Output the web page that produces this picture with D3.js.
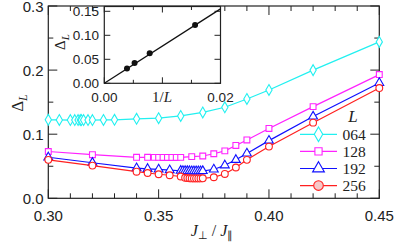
<!DOCTYPE html>
<html>
<head>
<meta charset="utf-8">
<script src="https://cdn.jsdelivr.net/npm/d3@7"></script>
<style>
  body { margin: 0; background: #fff; }
  svg { display: block; }
  .tick-label { font-family: "Liberation Sans", Arial, sans-serif; fill: #222; }
  .math { font-family: "Liberation Serif", "Times New Roman", serif; fill: #222; }
</style>
</head>
<body>
<div id="chart"></div>
<script>
// main panel: gap Delta_L vs J_perp/J_par for four system sizes
let sizes = ["064", "128", "192", "256"];
let colors = ["#22f0f0", "#ff22ff", "#1010ff", "#ff2020"];

let x064 = [0.300, 0.305, 0.310, 0.312, 0.3135, 0.3145, 0.315, 0.316, 0.318, 0.320, 0.325, 0.330, 0.340, 0.350, 0.360, 0.370, 0.380, 0.390, 0.400, 0.420, 0.450];
let y064 = [0.1225, 0.1222, 0.122, 0.122, 0.122, 0.122, 0.122, 0.122, 0.122, 0.122, 0.1222, 0.1225, 0.124, 0.125, 0.1285, 0.134, 0.142, 0.155, 0.169, 0.200, 0.244];

let x128 = [0.300, 0.320, 0.340, 0.345, 0.348, 0.350, 0.352, 0.354, 0.356, 0.358, 0.360, 0.365, 0.370, 0.375, 0.380, 0.385, 0.390, 0.400, 0.420, 0.450];
let y128 = [0.073, 0.068, 0.064, 0.064, 0.0638, 0.0638, 0.0637, 0.0637, 0.0637, 0.0637, 0.0638, 0.065, 0.066, 0.0695, 0.074, 0.0825, 0.091, 0.109, 0.143, 0.193];

let x192 = [0.300, 0.320, 0.340, 0.345, 0.350, 0.355, 0.360, 0.361, 0.362, 0.363, 0.364, 0.365, 0.366, 0.367, 0.368, 0.369, 0.370, 0.375, 0.380, 0.385, 0.390, 0.400, 0.420, 0.450];
let y192 = [0.064, 0.0555, 0.047, 0.046, 0.045, 0.044, 0.043, 0.0428, 0.0427, 0.0426, 0.0425, 0.0424, 0.0424, 0.0423, 0.0423, 0.0424, 0.0426, 0.045, 0.0515, 0.060, 0.070, 0.090, 0.1276, 0.180];

let x256 = [0.300, 0.320, 0.340, 0.345, 0.350, 0.355, 0.360, 0.362, 0.363, 0.364, 0.365, 0.366, 0.367, 0.368, 0.369, 0.370, 0.375, 0.380, 0.385, 0.390, 0.400, 0.420, 0.450];
let y256 = [0.060, 0.051, 0.0415, 0.0395, 0.0375, 0.036, 0.034, 0.032, 0.0315, 0.0312, 0.031, 0.031, 0.031, 0.031, 0.031, 0.0312, 0.0328, 0.038, 0.048, 0.060, 0.0807, 0.118, 0.172];

let xTicks = [0.30, 0.35, 0.40, 0.45];
let yTicks = [0.0, 0.1, 0.2, 0.3];

// inset: minimum gap vs 1/L
let invL = [1 / 64, 1 / 128, 1 / 192, 1 / 256];
let gapMin = [0.1215, 0.0625, 0.0423, 0.031];
let fitX = [0, 0.02];
let fitY = [0, 0.155];
let insetXTicks = [0.00, 0.02];
let insetYTicks = [0.00, 0.05, 0.10, 0.15];

let W = 395, H = 242;
let svg = d3.select("#chart").append("svg")
  .attr("width", W).attr("height", H);

let padL = 48.3, padR = 379.3, padT = 6, padB = 198.3;

let x = d3.scaleLinear().domain([0.30, 0.45]).range([padL, padR]);
let y = d3.scaleLinear().domain([0, 0.3]).range([padB, padT]);

// frame + inward ticks
function frame(g, xs, ys, xMajor, xMinor, yMajor, yMinor, big, small) {
  let x0 = xs.range()[0], x1 = xs.range()[1];
  let y0 = ys.range()[0], y1 = ys.range()[1];
  g.append("rect")
    .attr("x", x0).attr("y", y1)
    .attr("width", x1 - x0).attr("height", y0 - y1)
    .attr("fill", "none").attr("stroke", "#222").attr("stroke-width", 1.2);
  let tk = g.append("g").attr("stroke", "#222").attr("stroke-width", 1);
  xMinor.forEach(function (v) {
    let len = xMajor.some(function (m) { return Math.abs(m - v) < 1e-9; }) ? big : small;
    tk.append("line").attr("x1", xs(v)).attr("x2", xs(v)).attr("y1", y0).attr("y2", y0 - len);
    tk.append("line").attr("x1", xs(v)).attr("x2", xs(v)).attr("y1", y1).attr("y2", y1 + len);
  });
  yMinor.forEach(function (v) {
    let len = yMajor.some(function (m) { return Math.abs(m - v) < 1e-9; }) ? big : small;
    tk.append("line").attr("y1", ys(v)).attr("y2", ys(v)).attr("x1", x0).attr("x2", x0 + len);
    tk.append("line").attr("y1", ys(v)).attr("y2", ys(v)).attr("x1", x1).attr("x2", x1 - len);
  });
}

frame(svg.append("g"), x, y,
  xTicks, d3.range(0.30, 0.4501, 0.01),
  yTicks, d3.range(0, 0.3001, 0.05), 9, 5);

svg.selectAll(".xl").data(xTicks).enter().append("text")
  .attr("class", "tick-label")
  .attr("x", function (d) { return x(d); })
  .attr("y", 221)
  .attr("text-anchor", "middle")
  .style("font-size", "15px")
  .text(function (d) { return d3.format(".2f")(d); });

svg.selectAll(".yl").data(yTicks).enter().append("text")
  .attr("class", "tick-label")
  .attr("x", 43.5)
  .attr("y", function (d) { return y(d) + 5.8; })
  .attr("text-anchor", "end")
  .style("font-size", "15px")
  .text(function (d) { return d3.format(".1f")(d); });

// axis titles
let xt = svg.append("text").attr("class", "math")
  .attr("x", 212).attr("y", 236)
  .attr("text-anchor", "middle")
  .style("font-size", "16px");
xt.append("tspan").style("font-style", "italic").text("J");
xt.append("tspan").attr("dy", 3).style("font-size", "10.5px").text("⊥");
xt.append("tspan").attr("dy", -3).text(" / ");
xt.append("tspan").style("font-style", "italic").text("J");
xt.append("tspan").attr("dy", 3).style("font-size", "10.5px").text("∥");

let yt = svg.append("text").attr("class", "math")
  .attr("transform", "translate(23,103) rotate(-90)")
  .attr("text-anchor", "middle")
  .style("font-size", "17px");
yt.append("tspan").text("Δ");
yt.append("tspan").attr("dy", 4).style("font-size", "12px").style("font-style", "italic").text("L");

// series
let seriesX = [x064, x128, x192, x256];
let seriesY = [y064, y128, y192, y256];
let shapes = [d3.symbolDiamond, d3.symbolSquare, d3.symbolTriangle, d3.symbolCircle];
let markSize = [34, 34, 34, 36];
let legendSize = [62, 52, 60, 72];

let line = d3.line()
  .x(function (d) { return x(d[0]); })
  .y(function (d) { return y(d[1]); });

seriesX.forEach(function (xs, i) {
  let pts = xs.map(function (v, j) { return [v, seriesY[i][j]]; });
  svg.append("path")
    .datum(pts)
    .attr("d", line)
    .attr("fill", "none")
    .attr("stroke", colors[i])
    .attr("stroke-width", 1.2);
  svg.selectAll(".m" + i).data(pts).enter().append("path")
    .attr("transform", function (d) { return "translate(" + x(d[0]) + "," + y(d[1]) + ")"; })
    .attr("d", d3.symbol().type(shapes[i]).size(markSize[i]))
    .attr("fill", "#fff")
    .attr("stroke", colors[i])
    .attr("stroke-width", 1.1);
});

// legend
svg.append("text").attr("class", "math")
  .attr("x", 353).attr("y", 122)
  .attr("text-anchor", "middle")
  .style("font-size", "17px").style("font-style", "italic")
  .text("L");

sizes.forEach(function (s, i) {
  let ly = 134.3 + i * 17.1;
  svg.append("line")
    .attr("x1", 300).attr("x2", 337)
    .attr("y1", ly).attr("y2", ly)
    .attr("stroke", colors[i]).attr("stroke-width", 1.2);
  svg.append("path")
    .attr("transform", "translate(318.5," + ly + ")")
    .attr("d", d3.symbol().type(shapes[i]).size(legendSize[i]))
    .attr("fill", i === 3 ? "#f6c8c8" : "#fff")
    .attr("stroke", colors[i])
    .attr("stroke-width", 1.1);
  svg.append("text").attr("class", "math")
    .attr("x", 342.5).attr("y", ly + 5.3)
    .style("font-size", "15.5px")
    .text(s);
});

// inset
let ix = d3.scaleLinear().domain([0, 0.02]).range([104.3, 220.5]);
let iy = d3.scaleLinear().domain([0, 0.16]).range([83.3, 6.5]);

let inset = svg.append("g");
inset.append("rect")
  .attr("x", 104.3).attr("y", 6.5)
  .attr("width", 220.5 - 104.3).attr("height", 83.3 - 6.5)
  .attr("fill", "#fff");

frame(inset, ix, iy,
  [0, 0.01, 0.02], [0, 0.005, 0.01, 0.015, 0.02],
  insetYTicks, insetYTicks, 6, 3.5);

inset.append("path")
  .datum(fitX.map(function (v, j) { return [v, fitY[j]]; }))
  .attr("d", d3.line()
    .x(function (d) { return ix(d[0]); })
    .y(function (d) { return iy(d[1]); }))
  .attr("stroke", "#111").attr("stroke-width", 1.3).attr("fill", "none");

inset.selectAll(".ip").data(invL).enter().append("circle")
  .attr("cx", function (d) { return ix(d); })
  .attr("cy", function (d, i) { return iy(gapMin[i]); })
  .attr("r", 3)
  .attr("fill", "#111");

inset.selectAll(".ixl").data(insetXTicks).enter().append("text")
  .attr("class", "tick-label")
  .attr("x", function (d) { return ix(d); })
  .attr("y", 102)
  .attr("text-anchor", "middle")
  .style("font-size", "13.5px")
  .text(function (d) { return d3.format(".2f")(d); });

inset.selectAll(".iyl").data(insetYTicks).enter().append("text")
  .attr("class", "tick-label")
  .attr("x", 99)
  .attr("y", function (d) { return iy(d) + 4.8; })
  .attr("text-anchor", "end")
  .style("font-size", "13.5px")
  .text(function (d) { return d3.format(".2f")(d); });

let il = inset.append("text").attr("class", "math")
  .attr("x", 162).attr("y", 102)
  .attr("text-anchor", "middle")
  .style("font-size", "15px");
il.append("tspan").text("1/");
il.append("tspan").style("font-style", "italic").text("L");

let iyt = inset.append("text").attr("class", "math")
  .attr("transform", "translate(65,42) rotate(-90)")
  .attr("text-anchor", "middle")
  .style("font-size", "15px");
iyt.append("tspan").text("Δ");
iyt.append("tspan").attr("dy", 3.5).style("font-size", "11px").style("font-style", "italic").text("L");
</script>
</body>
</html>
